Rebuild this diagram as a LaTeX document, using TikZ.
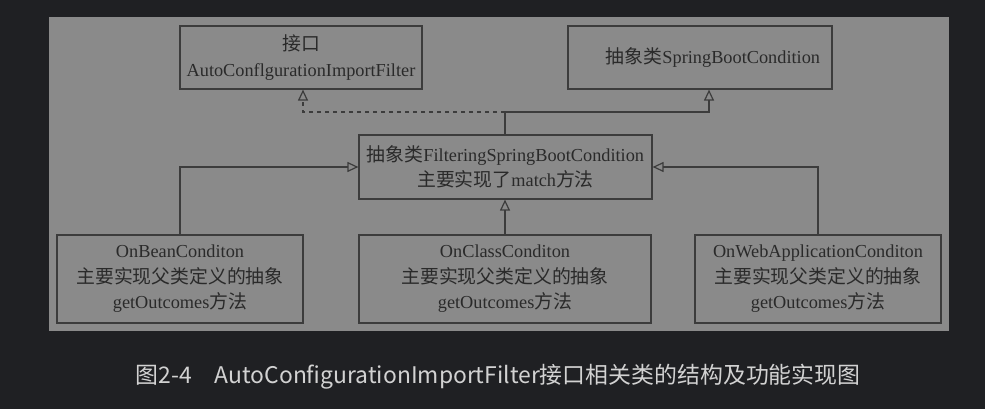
\documentclass[tikz,border=0pt]{standalone}
\usepackage{fontspec}
\setmainfont{Liberation Serif}
\newfontfamily\cjk[Scale=1.03]{Noto Sans CJK SC}
\newfontfamily\capfont{Noto Sans CJK SC}
\usetikzlibrary{arrows.meta}
\definecolor{bgc}{HTML}{1F2023}
\definecolor{panelc}{HTML}{8A8A8A}
\definecolor{linec}{HTML}{3C3C3C}
\definecolor{textc}{HTML}{2A2A2A}
\definecolor{capc}{HTML}{D2D2D2}
\begin{document}
\begin{tikzpicture}[x=1pt,y=-1pt,
  box/.style={draw=linec, line width=1.2pt, inner sep=0pt, align=center,
    font=\fontsize{18.3}{25.5}\selectfont, text=textc},
  inh/.style={draw=linec, line width=1.2pt, -{Triangle[open,length=11pt,width=10pt]}},
  realize/.style={inh, dash pattern=on 4pt off 4pt}]
\useasboundingbox (0,0) rectangle (985,409);
\fill[bgc] (0,0) rectangle (985,409);
\fill[panelc] (49,17) rectangle (949,331);

\node[box, minimum width=242pt, minimum height=63pt] (b1) at (301,57.5)
  {{\cjk 接口}\\AutoConflgurationImportFilter};
\node[box, minimum width=264pt, minimum height=63pt] (b2) at (700,57.5) {};
\node[text=textc, font=\fontsize{18.3}{25.5}\selectfont, inner sep=0pt] (b2t) at (713,57.5)
  {{\cjk 抽象类}SpringBootCondition};
\node[box, minimum width=293pt, minimum height=64pt] (b3) at (505.5,167)
  {{\cjk 抽象类}FilteringSpringBootCondition\\{\cjk 主要实现了}match{\cjk 方法}};
\node[box, minimum width=246pt, minimum height=88pt] (b4) at (180,279)
  {OnBeanConditon\\{\cjk 主要实现父类定义的抽象}\\getOutcomes{\cjk 方法}};
\node[box, minimum width=292pt, minimum height=88pt] (b5) at (505,279)
  {OnClassConditon\\{\cjk 主要实现父类定义的抽象}\\getOutcomes{\cjk 方法}};
\node[box, minimum width=246pt, minimum height=88pt] (b6) at (818,279)
  {OnWebApplicationConditon\\{\cjk 主要实现父类定义的抽象}\\getOutcomes{\cjk 方法}};

\coordinate (jn) at (505,112);
\coordinate (b2in) at ([xshift=9pt]b2.south);
\coordinate (b1in) at ([xshift=2pt]b1.south);

\draw[inh] (b4.north) |- (b3.west);
\draw[inh] (b6.north) |- (b3.east);
\draw[inh] (b5.north) -- (b5.north |- b3.south);
\draw[inh] (b3.north -| jn) -- (jn) -| (b2in);
\draw[realize] (jn) -| (b1in);

\node[text=capc, font=\capfont\fontsize{22.9}{23}\selectfont, inner sep=0pt] (cap) at (498,377)
  {图2-4　AutoConfigurationImportFilter接口相关类的结构及功能实现图};
\end{tikzpicture}
\end{document}
